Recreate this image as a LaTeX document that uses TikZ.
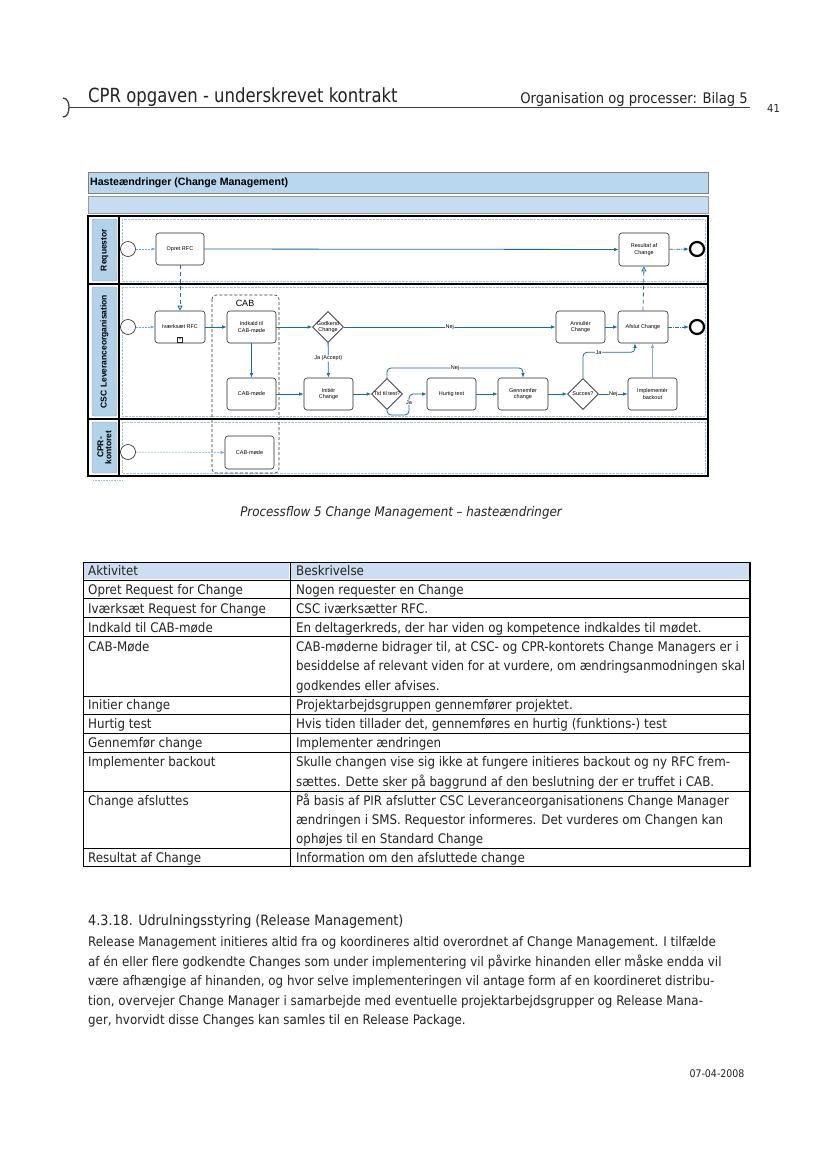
\documentclass[tikz,border=0pt]{standalone}
\usepackage{fontspec}
\setmainfont{DejaVu Sans Condensed}
\newfontfamily\arialf{Liberation Sans}
\usetikzlibrary{arrows.meta,shapes.geometric,calc}
\definecolor{flowblue}{RGB}{25,105,180}
\definecolor{titlebg}{RGB}{185,215,238}
\definecolor{lanebg}{RGB}{178,210,234}
\definecolor{headbg}{RGB}{205,222,240}
\definecolor{txt}{RGB}{35,35,35}
\begin{document}
\begin{tikzpicture}[x=1pt,y=-1pt,
  task/.style={draw=black!85, rounded corners=3pt, line width=0.6pt, fill=white, minimum width=49pt, minimum height=32pt, align=center, inner sep=1pt, font=\arialf\fontsize{5.5}{6.5}\selectfont},
  gw/.style={draw=black!85, diamond, line width=0.6pt, fill=white, minimum width=31pt, minimum height=31pt, inner sep=0pt},
  gwtext/.style={align=center, inner sep=0pt, font=\arialf\fontsize{5.5}{6.5}\selectfont},
  startev/.style={circle, draw=black!85, line width=0.6pt, fill=white, minimum size=15pt, inner sep=0pt},
  endev/.style={circle, draw=black, line width=2.2pt, fill=white, minimum size=14pt, inner sep=0pt},
  flow/.style={draw=flowblue, line width=0.8pt, -{Latex[length=4.5pt,width=3.5pt]}, rounded corners=4pt},
  dflow/.style={flow, dash pattern=on 4pt off 1pt on 1pt off 1pt},
  sflow/.style={draw=flowblue!60, line width=0.5pt, dash pattern=on 2pt off 1pt, -{Latex[length=4pt,width=3pt]}},
  msg/.style={draw=flowblue, line width=0.8pt, dash pattern=on 4pt off 3pt, -{Triangle[open,length=5pt,width=5pt,fill=white]}},
  lbl/.style={font=\arialf\fontsize{5.5}{6.5}\selectfont, fill=white, inner sep=0.5pt},
  lanelabel/.style={draw=black!40, rounded corners=2pt, fill=lanebg, rotate=90, align=center, font=\arialf\bfseries\fontsize{8.5}{9}\selectfont, inner sep=0pt, minimum height=25pt},
  cell/.style={anchor=base west, inner sep=0pt, text=txt, font=\fontsize{13.2}{15}\selectfont},
  para/.style={anchor=base west, inner sep=0pt, text=txt, font=\fontsize{13.2}{15}\selectfont},
]
\useasboundingbox (0,0) rectangle (828,1169);
\fill[white] (0,0) rectangle (828,1169);

% ---------- page header ----------
\draw[line width=1.3pt, black!75] (63,98) to[out=0,in=90] (69,107) to[out=-90,in=0] (63,117);
\draw[line width=0.9pt, black!75] (69,107.5) -- (750,107.5);
\node[anchor=base west, inner sep=0, text=txt, font=\fontsize{19.5}{24}\selectfont] (hl) at (88,103) {\scalebox{0.94}[1]{CPR opgaven - underskrevet kontrakt}};
\node[anchor=base east, inner sep=0, text=txt, font=\fontsize{14.6}{16}\selectfont] (hr) at (748,104) {Organisation og processer: Bilag 5};
\node[anchor=base west, inner sep=0, text=txt, font=\fontsize{11}{12}\selectfont] (pg) at (767,113) {41};

% ---------- pool frame ----------
\fill[titlebg] (88,172) rectangle (708,193);
\draw[black!50, line width=0.5pt] (88,172) rectangle (708,193);
\node[anchor=west, inner sep=0, font=\arialf\bfseries\fontsize{10.6}{11}\selectfont] (title) at (90,182.5) {Hasteændringer (Change Management)};
\fill[titlebg!85] (88,196) rectangle (708,213);
\draw[black!40, line width=0.5pt] (88,196) rectangle (708,213);

\draw[line width=1.6pt] (88,216) rectangle (708,476);
\draw[line width=1.6pt] (88,284) -- (708,284);
\draw[line width=1.6pt] (88,419) -- (708,419);
\draw[line width=1.6pt] (119,216) -- (119,476);
\draw[flowblue!40, line width=0.4pt, densely dotted] (122,219) rectangle (705,281);
\draw[flowblue!40, line width=0.4pt, densely dotted] (122,287) rectangle (705,416);
\draw[flowblue!40, line width=0.4pt, densely dotted] (122,422) rectangle (705,473);
\draw[flowblue!45, line width=0.6pt, densely dotted] (93,480.5) -- (122,480.5);

\node[lanelabel, minimum width=62pt] (lreq) at (104.5,250) {Requestor};
\node[lanelabel, minimum width=129pt] (lcsc) at (104.5,351.5) {CSC Leveranceorganisation};
\node[lanelabel, minimum width=51pt] (lcpr) at (104.5,447.5) {CPR-\\[-1pt]kontoret};

% CAB group
\draw[black!80, line width=0.6pt, dash pattern=on 3pt off 2pt, rounded corners=4pt] (212,295) rectangle (279,473);
\node[font=\arialf\fontsize{9}{10}\selectfont, inner sep=0] (cabl) at (245,303) {CAB};

% ---------- Requestor lane ----------
\node[startev] (s1) at (128,249) {};
\node[task, minimum width=48pt] (opret) at (180,249) {Opret RFC};
\node[task, minimum width=50pt, minimum height=33pt] (res) at (644,249.5) {Resultat af\\Change};
\node[endev] (e1) at (697,249) {};

% ---------- CSC lane ----------
\node[startev] (s2) at (128,327) {};
\node[task, minimum width=50pt] (ivk) at (180,327) {Iværksæt RFC};
\node[draw=black!85, line width=0.5pt, minimum size=5pt, inner sep=0pt, font=\arialf\fontsize{5}{5}\selectfont] (ivkm) at (180,339.5) {+};
\node[task] (ind) at (251.5,327) {Indkald til\\CAB-møde};
\node[task] (cab1) at (251.5,394) {CAB-møde};
\node[gw] (g1) at (328,327) {};
\node[gwtext] (g1t) at (328,327) {Godkend\\Change};
\node[task] (init) at (328.5,394) {Initiér\\Change};
\node[gw] (g2) at (387,394) {};
\node[gwtext] (g2t) at (387,394) {Tid til test?};
\node[task] (hurt) at (451.5,394) {Hurtig test};
\node[task, minimum width=50pt] (genn) at (523,394) {Gennemfør\\change};
\node[gw] (g3) at (583,394) {};
\node[gwtext] (g3t) at (583,394) {Succes?};
\node[task] (impl) at (652.5,394) {Implementér\\backout};
\node[task] (annul) at (580.5,327) {Annullér\\Change};
\node[task, minimum width=50pt] (afsl) at (643,327) {Afslut Change};
\node[endev] (e2) at (697,327) {};

% ---------- CPR lane ----------
\node[startev] (s3) at (128,452) {};
\node[task, minimum height=33pt] (cab2) at (249.5,452.5) {CAB-møde};

% ---------- connectors ----------
\draw[sflow] (s1) -- (opret);
\draw[flow] (opret) -- (res);
\draw[dflow] (res) -- (e1);
\draw[msg] (opret.south) -- (ivk.north);
\draw[sflow] (s2) -- (ivk);
\draw[flow] (ivk) -- (ind);
\draw[flow] (ind) -- (cab1);
\draw[flow] (ind) -- (g1);
\draw[flow] (g1) -- (init) node[lbl, pos=0.45] (lja1) {Ja (Accept)};
\draw[flow] (cab1) -- (init);
\draw[flow] (init) -- (g2);
\draw[flow] (g2.north) |- (455,368) node[lbl] (lnej2) {Nej} -| (genn.north);
\draw[flow] (g2.south) |- (409,415) |- node[lbl, pos=0.3] (lja2) {Ja} (hurt.west);
\draw[flow] (hurt) -- (genn);
\draw[flow] (genn) -- (g3);
\draw[flow] (g3) -- node[lbl] (lnej3) {Nej} (impl);
\draw[flow] (g3.north) |- node[lbl, pos=0.65] (lja3) {Ja} ($(afsl.south)+(-8,9)$) -- ($(afsl.south)+(-8,0)$);
\draw[flow, draw=flowblue!55] (impl.north) -- (impl.north |- afsl.south);
\draw[flow] (g1) -- node[lbl] (lnej1) {Nej} (annul);
\draw[flow] (annul) -- (afsl);
\draw[dflow] (afsl) -- (e2);
\draw[msg] (afsl.north) -- (res.south);
\draw[sflow] (s3) -- (cab2);

% ---------- caption ----------
\node[inner sep=0, text=txt, font=\itshape\fontsize{13.2}{14}\selectfont] (cap) at (401,513) {Processflow 5 Change Management – hasteændringer};

% ---------- table ----------
\fill[headbg] (84,563) rectangle (289,579);
\fill[headbg] (291,563) rectangle (749,579);
\draw[black, line width=0.7pt] (83,562) rectangle (750,866);
\draw[black, line width=1.2pt] (750,562) -- (750,866);
\draw[black, line width=0.7pt] (290,562) -- (290,866);
\foreach \yy in {580,598,617,636,696,714,733,752,791,848}
  \draw[black, line width=0.7pt] (83,\yy) -- (750,\yy);

\node[cell] (a0) at (88,575.5) {Aktivitet};
\node[cell] (b0) at (296,575.5) {Beskrivelse};
\node[cell] (a1) at (88,594) {Opret Request for Change};
\node[cell] (b1) at (296,594) {Nogen requester en Change};
\node[cell] (a2) at (88,613) {Iværksæt Request for Change};
\node[cell] (b2) at (296,613) {CSC iværksætter RFC.};
\node[cell] (a3) at (88,632) {Indkald til CAB-møde};
\node[cell] (b3) at (296,632) {En deltagerkreds, der har viden og kompetence indkaldes til mødet.};
\node[cell] (a4) at (88,651) {CAB-Møde};
\node[cell] (b4a) at (296,651) {CAB-møderne bidrager til, at CSC- og CPR-kontorets Change Managers er i};
\node[cell] (b4b) at (296,670.5) {besiddelse af relevant viden for at vurdere, om ændringsanmodningen skal};
\node[cell] (b4c) at (296,690) {godkendes eller afvises.};
\node[cell] (a5) at (88,709.5) {Initier change};
\node[cell] (b5) at (296,709.5) {Projektarbejdsgruppen gennemfører projektet.};
\node[cell] (a6) at (88,728) {Hurtig test};
\node[cell] (b6) at (296,728) {Hvis tiden tillader det, gennemføres en hurtig (funktions-) test};
\node[cell] (a7) at (88,747.5) {Gennemfør change};
\node[cell] (b7) at (296,747.5) {Implementer ændringen};
\node[cell] (a8) at (88,766.5) {Implementer backout};
\node[cell] (b8a) at (296,766.5) {Skulle changen vise sig ikke at fungere initieres backout og ny RFC frem-};
\node[cell] (b8b) at (296,786) {sættes. Dette sker på baggrund af den beslutning der er truffet i CAB.};
\node[cell] (a9) at (88,805) {Change afsluttes};
\node[cell] (b9a) at (296,805) {På basis af PIR afslutter CSC Leveranceorganisationens Change Manager};
\node[cell] (b9b) at (296,824) {ændringen i SMS. Requestor informeres. Det vurderes om Changen kan};
\node[cell] (b9c) at (296,843) {ophøjes til en Standard Change};
\node[cell] (a10) at (88,862) {Resultat af Change};
\node[cell] (b10) at (296,862) {Information om den afsluttede change};

% ---------- section text ----------
\node[anchor=base west, inner sep=0, text=txt, font=\fontsize{14.2}{16}\selectfont] (sec) at (88,925) {4.3.18. Udrulningsstyring (Release Management)};
\node[para] (p1) at (88,946.5) {Release Management initieres altid fra og koordineres altid overordnet af Change Management. I tilfælde};
\node[para] (p2) at (88,966) {af én eller flere godkendte Changes som under implementering vil påvirke hinanden eller måske endda vil};
\node[para] (p3) at (88,985.5) {være afhængige af hinanden, og hvor selve implementeringen vil antage form af en koordineret distribu-};
\node[para] (p4) at (88,1005) {tion, overvejer Change Manager i samarbejde med eventuelle projektarbejdsgrupper og Release Mana-};
\node[para] (p5) at (88,1024.5) {ger, hvorvidt disse Changes kan samles til en Release Package.};

\node[inner sep=0, text=txt, font=\fontsize{10.5}{12}\selectfont] (date) at (717,1074) {07-04-2008};
\end{tikzpicture}
\end{document}
